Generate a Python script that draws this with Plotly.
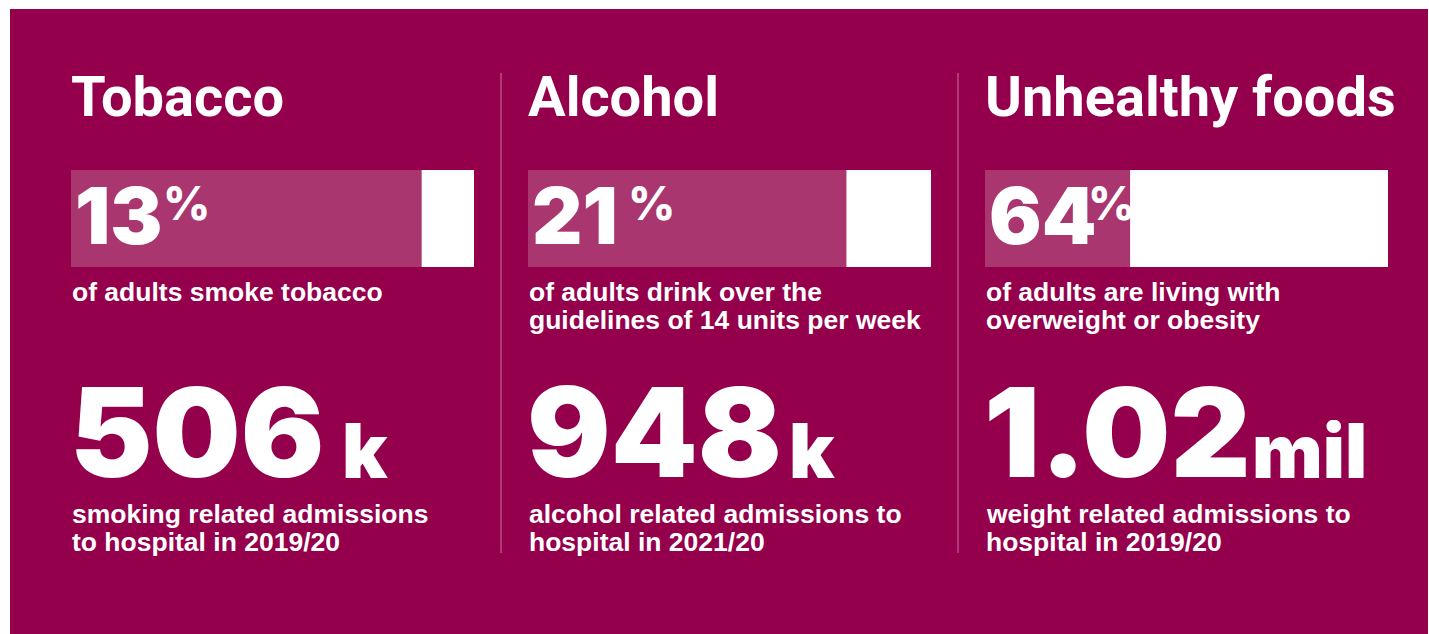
import plotly.graph_objects as go

# ---- data -------------------------------------------------------------
categories = ["Tobacco", "Alcohol", "Unhealthy foods"]
adult_share_pct = [13, 21, 64]
share_descriptions = [
    ["of adults smoke tobacco"],
    ["of adults drink over the", "guidelines of 14 units per week"],
    ["of adults are living with", "overweight or obesity"],
]
admissions_number = ["506", "948", "1.02"]
admissions_unit = ["k", "k", "mil"]
admissions_descriptions = [
    ["smoking related admissions", "to hospital in 2019/20"],
    ["alcohol related admissions to", "hospital in 2021/20"],
    ["weight related admissions to", "hospital in 2019/20"],
]

# ---- styling ----------------------------------------------------------
W, H = 1429, 634
M_L, M_R, M_T, M_B = 10, 1, 9, 0
MAROON = "#94004B"
BAR_PINK = "#A9366F"
WHITE = "#FFFFFF"
DIVIDER = "rgba(225,130,175,0.85)"

TITLE_FONT = dict(family="Roboto", size=56, color=WHITE, weight=700)
PCT_FONT = dict(family="Inter", size=78, color=WHITE, weight=900)
PCT_SIGN_FONT = dict(family="Inter", size=46, color=WHITE, weight=800)
BODY_FONT = dict(family="Liberation Sans", size=26.5, color=WHITE, weight=700)
BIG_FONT = dict(family="Inter", size=124, color=WHITE, weight=900)
UNIT_FONT = dict(family="Inter", size=75, color=WHITE, weight=900)

PW, PH = W - M_L - M_R, H - M_T - M_B


def px(x):
    return (x - M_L) / PW


def py(y):
    return 1 - (y - M_T) / PH


# column layout (left edge of each column, width of the bars)
col_left = [71, 528, 985]
bar_width_px = 403
bar_top, bar_bottom = 170, 267
pct_sign_x = [161, 626, 1086]
unit_x = [340, 787, 1250]
divider_x = [501, 958]

fig = go.Figure()

for i, v in enumerate(adult_share_pct):
    ax = "" if i == 0 else str(i + 1)
    # remaining share (pink) followed by the stated share (white)
    fig.add_trace(go.Bar(
        x=[100 - v], y=[0], base=[0], orientation="h", width=1,
        marker=dict(color=BAR_PINK, line=dict(width=0)),
        xaxis="x" + ax, yaxis="y" + ax, hoverinfo="skip", showlegend=False,
    ))
    fig.add_trace(go.Bar(
        x=[v], y=[0], base=[100 - v], orientation="h", width=1,
        marker=dict(color=WHITE, line=dict(width=0)),
        xaxis="x" + ax, yaxis="y" + ax, hoverinfo="skip", showlegend=False,
    ))

axis_common = dict(showgrid=False, zeroline=False, showticklabels=False,
                   showline=False, ticks="", fixedrange=True)
layout_axes = {}
for i in range(len(categories)):
    sfx = "" if i == 0 else str(i + 1)
    layout_axes["xaxis" + sfx] = dict(
        axis_common, range=[0, 100],
        domain=[px(col_left[i]), px(col_left[i] + bar_width_px)],
        anchor="y" + sfx)
    layout_axes["yaxis" + sfx] = dict(
        axis_common, range=[-0.5, 0.5],
        domain=[py(bar_bottom), py(bar_top)],
        anchor="x" + sfx)

annotations = []


def text(x, y, s, font, box_h=None):
    ann = dict(
        x=px(x), y=py(y), xref="paper", yref="paper", text=s,
        showarrow=False, xanchor="left", yanchor="middle", font=font)
    if box_h is not None:
        ann.update(height=box_h, valign="middle")
    annotations.append(ann)


for i, cat in enumerate(categories):
    x0 = col_left[i]
    text(x0 - 2, 97, cat, TITLE_FONT)
    text(x0 + 2, 215, str(adult_share_pct[i]), PCT_FONT)
    text(pct_sign_x[i], 203, "%", PCT_SIGN_FONT)
    for j, line in enumerate(share_descriptions[i]):
        text(x0 - 1, 292 + 28 * j, line, BODY_FONT)
    text(x0 - 3, 432, admissions_number[i], BIG_FONT, box_h=100)
    text(unit_x[i], 450, admissions_unit[i], UNIT_FONT, box_h=60)
    for j, line in enumerate(admissions_descriptions[i]):
        text(x0 - 1, 514 + 28 * j, line, BODY_FONT)

shapes = [dict(type="rect", xref="paper", yref="paper", x0=0, x1=1, y0=0, y1=1,
               fillcolor=MAROON, line=dict(width=0), layer="below")]
for dx in divider_x:
    shapes.append(dict(type="line", xref="paper", yref="paper",
                       x0=px(dx), x1=px(dx), y0=py(553), y1=py(73),
                       line=dict(color=DIVIDER, width=1), layer="below"))

fig.update_layout(
    width=W, height=H,
    margin=dict(l=M_L, r=M_R, t=M_T, b=M_B, pad=0),
    paper_bgcolor=WHITE, plot_bgcolor="rgba(0,0,0,0)",
    template="none", barmode="overlay", showlegend=False,
    shapes=shapes, annotations=annotations,
    **layout_axes,
)

fig.write_html("out.html", config={"displayModeBar": False})
